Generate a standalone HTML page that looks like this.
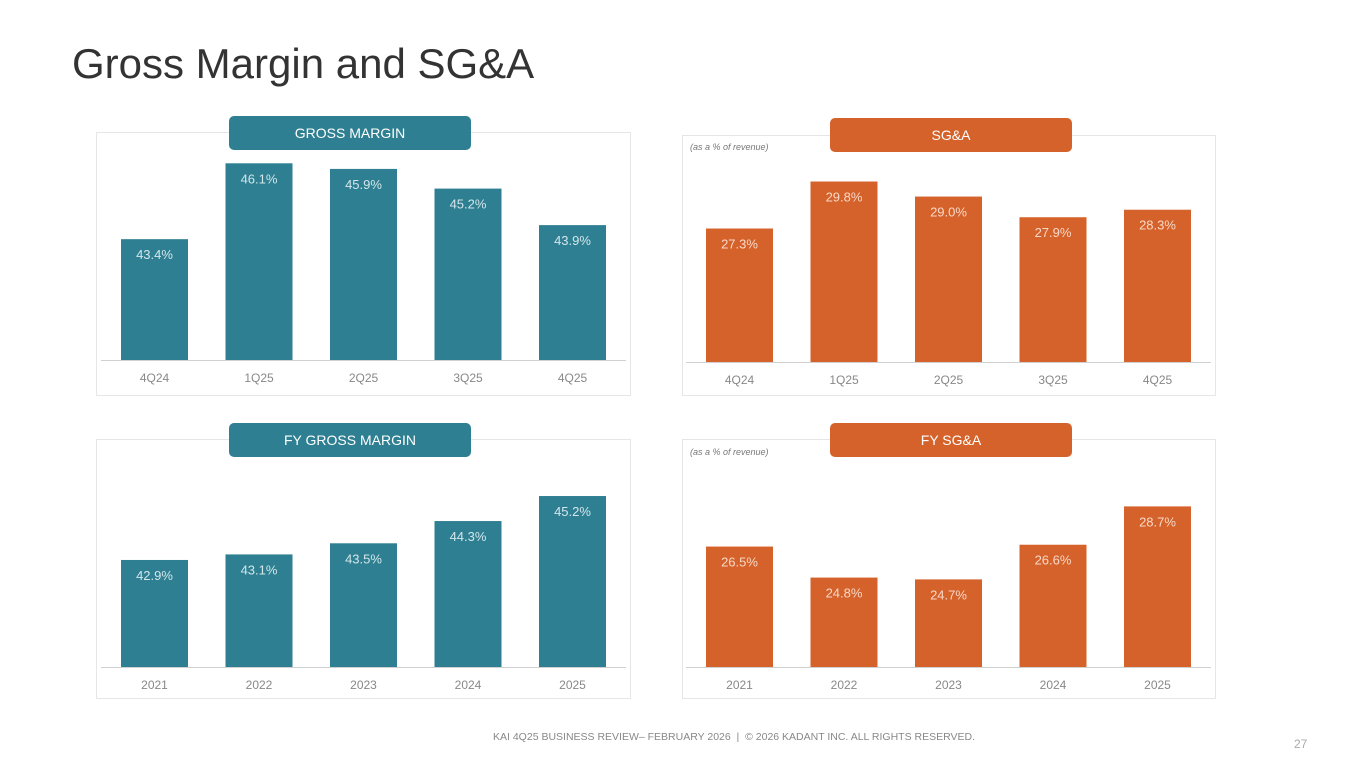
<!DOCTYPE html>
<html><head><meta charset="utf-8">
<style>
body{margin:0;width:1365px;height:768px;background:#fff;font-family:"Liberation Sans",sans-serif;overflow:hidden;position:relative}
.title{position:absolute;left:72px;top:40px;font-size:42px;color:#333}
.panel{position:absolute;border:1px solid #e6e6e6;box-sizing:border-box}
.pill{position:absolute;height:34px;border-radius:5px;color:#fff;font-size:14px;text-align:center;line-height:34px}
.note{position:absolute;font-size:9px;font-style:italic;color:#777}
svg{position:absolute;left:0;top:0}
.foot{position:absolute;top:731px;left:0;width:1468px;text-align:center;font-size:10.5px;color:#888}
.pg{position:absolute;left:1294px;top:737px;font-size:12px;color:#aaa}
</style></head><body>
<div class="title">Gross Margin and SG&amp;A</div>
<div class="panel" style="left:96px;top:132px;width:535px;height:264px"></div>
<div class="panel" style="left:682px;top:135px;width:534px;height:261px"></div>
<div class="panel" style="left:96px;top:439px;width:535px;height:260px"></div>
<div class="panel" style="left:682px;top:439px;width:534px;height:260px"></div>
<svg id="chart" width="1365" height="768"></svg>
<div class="pill" style="left:229px;top:116px;width:242px;background:#2e7f91">GROSS MARGIN</div>
<div class="pill" style="left:830px;top:118px;width:242px;background:#d5622a">SG&amp;A</div>
<div class="pill" style="left:229px;top:423px;width:242px;background:#2e7f91">FY GROSS MARGIN</div>
<div class="pill" style="left:830px;top:423px;width:242px;background:#d5622a">FY SG&amp;A</div>
<div class="note" style="left:690px;top:142px">(as a % of revenue)</div>
<div class="note" style="left:690px;top:447px">(as a % of revenue)</div>
<div class="foot">KAI 4Q25 BUSINESS REVIEW– FEBRUARY 2026 &nbsp;|&nbsp; © 2026 KADANT INC. ALL RIGHTS RESERVED.</div>
<div class="pg">27</div>
<script>
const quarters = ["4Q24","1Q25","2Q25","3Q25","4Q25"];
const years = ["2021","2022","2023","2024","2025"];
const gmQ = [43.4,46.1,45.9,45.2,43.9];
const sgaQ = [27.3,29.8,29.0,27.9,28.3];
const gmFY = [42.9,43.1,43.5,44.3,45.2];
const sgaFY = [26.5,24.8,24.7,26.6,28.7];
const NS="http://www.w3.org/2000/svg";
const svg=document.getElementById('chart');
function mk(tag,attrs,text){const e=document.createElementNS(NS,tag);for(const k in attrs)e.setAttribute(k,attrs[k]);if(text!==undefined)e.textContent=text;svg.appendChild(e);return e;}
function draw(name,cats,vals,cfg){
  const y=v=>cfg.base-(v-cfg.min)*cfg.ppu;
  const ln=mk('line',{x1:cfg.x0-20,x2:cfg.x0+4*cfg.step+cfg.w+20,y1:cfg.base+0.5,y2:cfg.base+0.5,stroke:'#d0d0d0'});
  
  
  vals.forEach((v,i)=>{
    const x=cfg.x0+i*cfg.step, top=y(v);
    const r=mk('rect',{x:x,y:top,width:cfg.w,height:cfg.base-top,fill:cfg.color});
    
    
    const t=mk('text',{x:x+cfg.w/2,y:top+20,'text-anchor':'middle','font-size':13,fill:cfg.label},v.toFixed(1)+'%');
    
    
    const c=mk('text',{x:x+cfg.w/2,y:cfg.base+22,'text-anchor':'middle','font-size':12,fill:'#888'},cats[i]);
    
    
  });
}
draw('gross-margin',quarters,gmQ,{x0:121,step:104.5,w:67,base:360,min:39.1,ppu:28.1,color:'#2e7f91',label:'#d3e6eb'});
draw('sga',quarters,sgaQ,{x0:706,step:104.5,w:67,base:362,min:20.2,ppu:18.8,color:'#d5622a',label:'#f8d8c8'});
draw('fy-gross-margin',years,gmFY,{x0:121,step:104.5,w:67,base:667,min:39.05,ppu:27.8,color:'#2e7f91',label:'#d3e6eb'});
draw('fy-sga',years,sgaFY,{x0:706,step:104.5,w:67,base:667,min:19.9,ppu:18.25,color:'#d5622a',label:'#f8d8c8'});
</script>
</body></html>
